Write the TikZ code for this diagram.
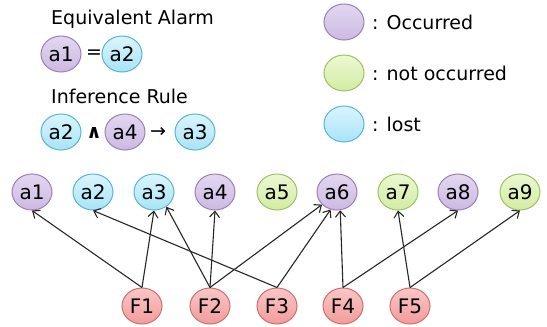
\documentclass[tikz,border=0pt]{standalone}
\usepackage{fontspec}
\setmainfont{DejaVu Sans}
\usetikzlibrary{arrows.meta,shapes.geometric}
\definecolor{purpleF}{HTML}{E2D7F0}
\definecolor{purpleB}{HTML}{CDB9E2}
\definecolor{purpleL}{HTML}{9A80BA}
\definecolor{greenF}{HTML}{ECF8D2}
\definecolor{greenB}{HTML}{D2ECA2}
\definecolor{greenL}{HTML}{A0C060}
\definecolor{blueF}{HTML}{DAF5FD}
\definecolor{blueB}{HTML}{A8E4F6}
\definecolor{blueL}{HTML}{5AB4D0}
\definecolor{redF}{HTML}{FAC6C6}
\definecolor{redB}{HTML}{F29C9C}
\definecolor{redL}{HTML}{CC6E6E}
\tikzset{
  alarm/.style={ellipse, minimum width=40pt, minimum height=36pt, inner sep=0pt,
    line width=1pt, font=\fontsize{20}{22}\selectfont},
  occ/.style={alarm, draw=purpleL, top color=purpleF, bottom color=purpleB},
  notocc/.style={alarm, draw=greenL, top color=greenF, bottom color=greenB},
  lost/.style={alarm, draw=blueL, top color=blueF, bottom color=blueB},
  fault/.style={alarm, draw=redL, top color=redF, bottom color=redB},
  label/.style={font=\fontsize{19}{21}\selectfont, inner sep=0pt, anchor=west},
  sym/.style={font=\fontsize{19}{21}\selectfont, inner sep=0pt},
  cause/.style={-{Straight Barb[length=6pt,width=10pt]}, line width=1.1pt, black!85},
}
\begin{document}
\begin{tikzpicture}[x=1pt, y=-1pt]
\useasboundingbox (0,0) rectangle (547,327);
% legend: equivalent alarm and inference rule
\node[label] (eqt) at (51,19) {Equivalent Alarm};
\node[occ] (ea1) at (61,54) {a1};
\node[sym] (eq) at (94,54) {=};
\node[lost] (ea2) at (122,54) {a2};
\node[label] (inft) at (51,96) {Inference Rule};
\node[lost] (ia2) at (61,132) {a2};
\node[sym, font=\fontsize{19}{21}\selectfont\bfseries] (and) at (94,133) {∧};
\node[occ] (ia4) at (125,132) {a4};
\node[sym] (imp) at (158,132) {→};
\node[lost] (ia3) at (195,132) {a3};
% legend: alarm states
\node[occ] (kocc) at (344,22) {};
\node[label] (tocc) at (372,22) {: Occurred};
\node[notocc] (knot) at (344,73) {};
\node[label] (tnot) at (372,73) {: not occurred};
\node[lost] (klost) at (344,124) {};
\node[label] (tlost) at (372,124) {: lost};
% alarms
\node[occ] (a1) at (32,192) {a1};
\node[lost] (a2) at (93,192) {a2};
\node[lost] (a3) at (154,192) {a3};
\node[occ] (a4) at (215,192) {a4};
\node[notocc] (a5) at (277,192) {a5};
\node[occ] (a6) at (337,192) {a6};
\node[notocc] (a7) at (398,192) {a7};
\node[occ] (a8) at (458,192) {a8};
\node[notocc] (a9) at (520,192) {a9};
% faults
\node[fault] (F1) at (142,306) {F1};
\node[fault] (F2) at (210,306) {F2};
\node[fault] (F3) at (277,306) {F3};
\node[fault] (F4) at (343,306) {F4};
\node[fault] (F5) at (410,306) {F5};
% fault-to-alarm links
\draw[cause] (F1.north) -- (a1.south);
\draw[cause] (F1.north) -- (a3.south);
\draw[cause] (F2.north) -- (a3.-50);
\draw[cause] (F2.north) -- (a4.south);
\draw[cause] (F2.north) -- (a6.-140);
\draw[cause] (F3.north) -- (a2.south);
\draw[cause] (F3.north) -- (a6.-110);
\draw[cause] (F4.north) -- (a6.-80);
\draw[cause] (F4.north) -- (a8.south);
\draw[cause] (F5.north) -- (a7.south);
\draw[cause] (F5.north) -- (a9.south);
\end{tikzpicture}
\end{document}
